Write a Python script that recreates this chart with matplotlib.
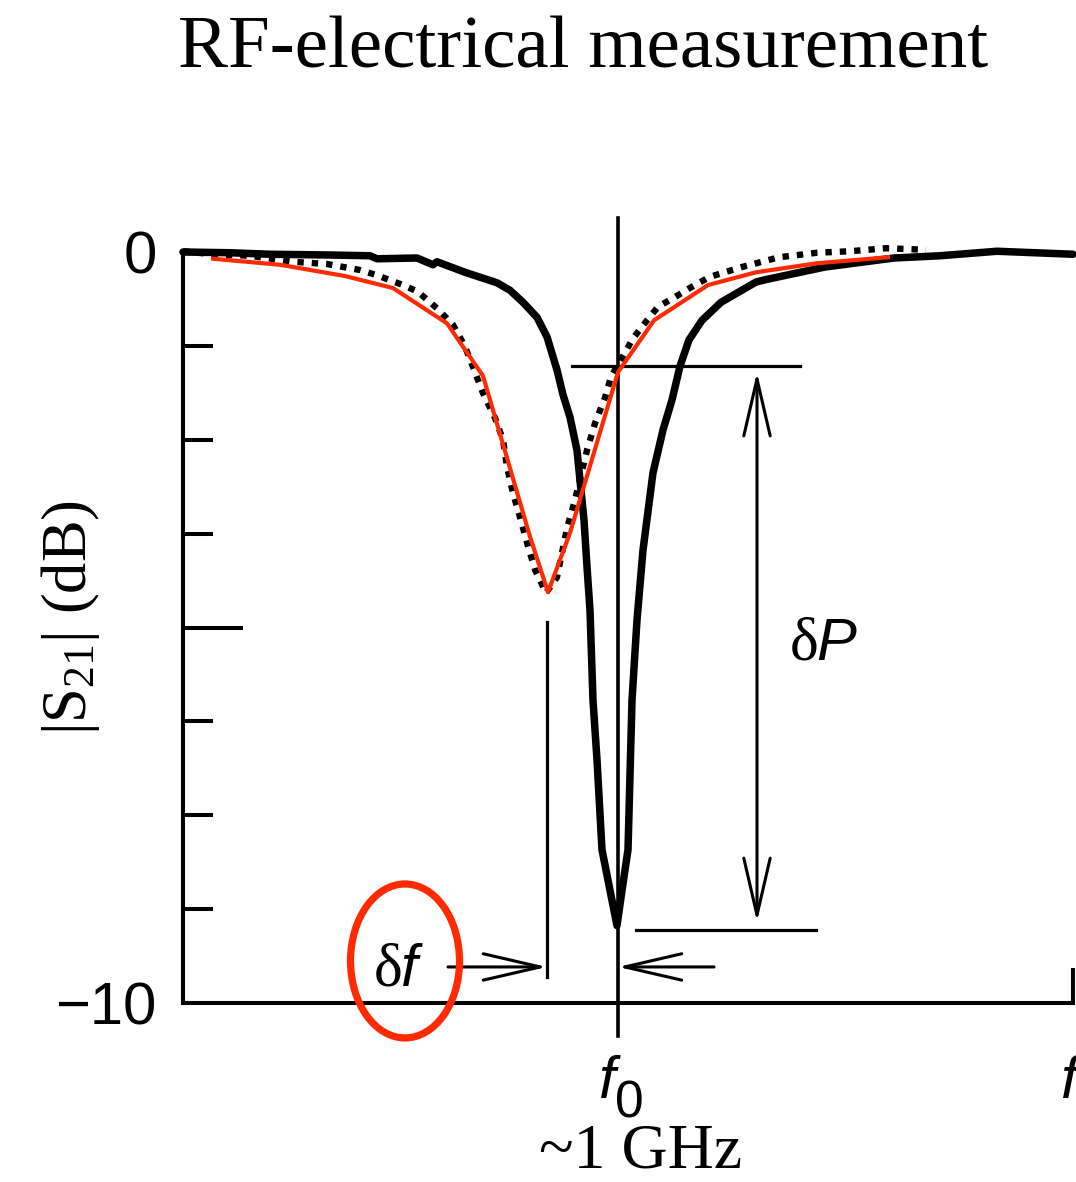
import matplotlib
matplotlib.use("Agg")
import matplotlib.pyplot as plt
from matplotlib.patches import Ellipse

plt.rcParams['mathtext.fontset'] = 'custom'
plt.rcParams['mathtext.rm'] = 'Liberation Serif'
plt.rcParams['mathtext.it'] = 'Liberation Serif:italic'

# ---- data (frequency in arbitrary units, |S21| in dB) ----
solid_f = [0, 47, 87, 147, 187, 194, 234, 250, 254, 282, 314, 327, 340, 354, 364, 374,
           380, 387, 394, 397, 401, 404, 407, 410, 414, 419, 427, 434, 439, 445, 449, 454,
           460, 470, 480, 489, 497, 506, 519, 538, 573, 582, 603, 642, 711, 757, 814, 890]
solid_db = [0.00, -0.01, -0.03, -0.04, -0.05, -0.09, -0.08, -0.17, -0.13, -0.27, -0.41, -0.51,
            -0.67, -0.87, -1.13, -1.57, -1.90, -2.20, -2.64, -3.04, -3.57, -4.19, -4.77, -5.97,
            -6.76, -7.96, -8.50, -8.97, -8.50, -7.96, -5.97, -4.90, -3.97, -2.94, -2.37, -1.97,
            -1.52, -1.17, -0.91, -0.67, -0.40, -0.37, -0.31, -0.20, -0.08, -0.05, 0.01, -0.03]

dotted_f = [0, 30, 67, 110, 144, 177, 194, 220, 235, 254, 270, 282, 290, 300, 312, 320, 324,
            330, 337, 344, 352, 363, 374, 384, 392, 404, 412, 422, 428, 439, 450, 464, 475,
            492, 508, 527, 559, 596, 634, 667, 703, 743]
dotted_db = [0.01, -0.03, -0.05, -0.13, -0.16, -0.24, -0.31, -0.44, -0.53, -0.75, -0.97, -1.26,
             -1.53, -1.88, -2.21, -2.50, -2.86, -3.21, -3.53, -3.87, -4.23, -4.54, -4.33, -3.68,
             -3.30, -2.64, -2.28, -1.94, -1.66, -1.41, -1.15, -0.91, -0.73, -0.60, -0.47, -0.33,
             -0.20, -0.07, -0.01, 0.01, 0.05, 0.03]

fit_f = [30, 97, 162, 210, 264, 300, 347, 365, 387, 435, 471, 525, 573, 634, 705]
fit_db = [-0.09, -0.17, -0.32, -0.48, -0.95, -1.65, -3.79, -4.53, -3.74, -1.60, -0.91, -0.44,
          -0.27, -0.15, -0.07]

ytick_major = [-10, -5, 0]
ytick_major_labels = ['\u221210', '', '0']
ytick_minor = [-8.75, -7.5, -6.25, -3.75, -2.5, -1.25]

f0 = 435          # resonance of the solid trace
f_shift = 364     # resonance of the dotted/fit trace
dip_top = -1.52   # level of upper dP reference line
dip_bottom = -9.03

RED = '#ff2a00'

fig = plt.figure(figsize=(10.76, 11.82), dpi=100)
ax = fig.add_axes([183/1076, (1182-1003)/1182, 890/1076, 751/1182])
ax.set_xlim(0, 890)
ax.set_ylim(-10, 0)

for s in ['top', 'right']:
    ax.spines[s].set_visible(False)
for s in ['left', 'bottom']:
    ax.spines[s].set_linewidth(2.9)

ax.set_xticks([])
ax.set_yticks(ytick_major)
ax.set_yticklabels(ytick_major_labels, family='Liberation Sans', fontsize=43)
ax.set_yticks(ytick_minor, minor=True)
ax.tick_params(axis='y', which='major', direction='in', length=43, width=2.9, pad=19)
ax.tick_params(axis='y', which='minor', direction='in', length=21.6, width=2.9)

# traces
ax.plot(solid_f, solid_db, color='black', lw=5.4, solid_joinstyle='round',
        solid_capstyle='round', zorder=3, clip_on=False)
ax.plot(dotted_f, dotted_db, color='black', lw=4.6, linestyle=(0, (1.0, 1.25)),
        dash_capstyle='butt', zorder=3, clip_on=False)
ax.plot(fit_f, fit_db, color=RED, lw=3.0, zorder=4, clip_on=False)

# reference lines
lk = dict(color='black', clip_on=False, zorder=2)
ax.plot([f0, f0], [0.45, -10.44], lw=2.6, **lk)
ax.plot([389, 617], [dip_top, dip_top], lw=2.3, **lk)
ax.plot([453, 633], [dip_bottom, dip_bottom], lw=2.3, **lk)
ax.plot([f_shift, f_shift], [-4.93, -9.65], lw=2.3, **lk)
ax.plot([890, 890], [-10, -9.56], lw=2.9, **lk)

# arrows
ap2 = dict(arrowstyle='<->,head_length=4.1,head_width=0.95', lw=2.2, color='black',
           shrinkA=0, shrinkB=0, mutation_scale=10)
ax.annotate('', xy=(574, -8.92), xytext=(574, -1.60), arrowprops=ap2, annotation_clip=False)
ap1 = dict(arrowstyle='->,head_length=4.1,head_width=0.95', lw=2.2, color='black',
           shrinkA=0, shrinkB=0, mutation_scale=10)
ax.annotate('', xy=(f_shift, -9.52), xytext=(265, -9.52), arrowprops=ap1, annotation_clip=False)
ax.annotate('', xy=(f0, -9.52), xytext=(531, -9.52), arrowprops=ap1, annotation_clip=False)

# ellipse
ax.add_patch(Ellipse((222, -9.44), 109, 2.05, fill=False, ec=RED, lw=5.2, clip_on=False,
                     zorder=5))

def fx(px):
    return px / 1076
def fy(py):
    return 1 - py / 1182

fig.text(fx(583), fy(68), 'RF-electrical measurement', ha='center', va='baseline',
         family='Liberation Serif', fontsize=54)
fig.text(fx(71), fy(618), r'|S$_{21}$| (dB)', rotation=90, ha='center', va='center',
         family='Liberation Serif', fontsize=45)

fig.text(fx(818), fy(660), '\u03b4', ha='right', va='baseline', family='Liberation Serif',
         fontsize=44)
fig.text(fx(816), fy(660), 'P', ha='left', va='baseline', family='Liberation Sans',
         style='italic', fontsize=43)

fig.text(fx(403), fy(986), '\u03b4', ha='right', va='baseline', family='Liberation Serif',
         fontsize=44)
fig.text(fx(401), fy(986), 'f', ha='left', va='baseline', family='Liberation Sans',
         style='italic', fontsize=43)

fig.text(fx(607), fy(1098), 'f', ha='center', va='baseline', family='Liberation Sans',
         style='italic', fontsize=43)
fig.text(fx(629), fy(1117), '0', ha='center', va='baseline', family='Liberation Sans',
         fontsize=37)
fig.text(fx(1069), fy(1098), 'f', ha='center', va='baseline', family='Liberation Sans',
         style='italic', fontsize=43)
fig.text(fx(641), fy(1181), '~1 GHz', ha='center', va='bottom', family='Liberation Serif',
         fontsize=46)

fig.savefig('out.png', dpi=100)
